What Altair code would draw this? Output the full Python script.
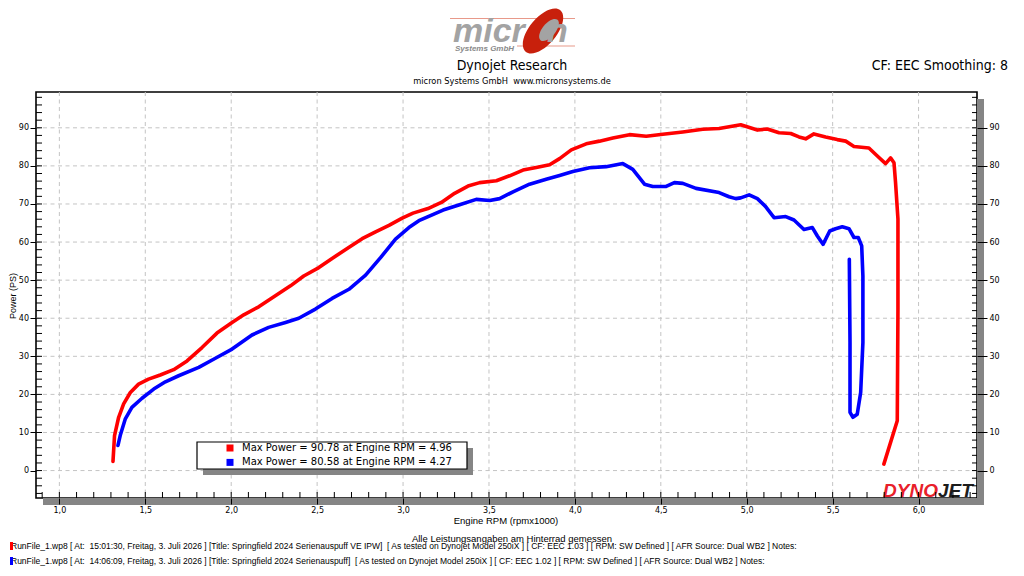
import altair as alt
import pandas as pd

# ---------------- data ----------------
RED_LABEL = "Max Power = 90.78 at Engine RPM = 4.96"
BLUE_LABEL = "Max Power = 80.58 at Engine RPM = 4.27"

RED_RPM = [1.312, 1.321, 1.345, 1.374, 1.413, 1.461, 1.519, 1.587, 1.665, 1.743,
           1.830, 1.917, 2.005, 2.073, 2.160, 2.257, 2.345, 2.422, 2.510, 2.587,
           2.675, 2.762, 2.840, 2.918, 2.995, 3.058, 3.145, 3.223, 3.300, 3.378,
           3.446, 3.543, 3.620, 3.698, 3.775, 3.853, 3.911, 3.979, 4.066, 4.143,
           4.221, 4.318, 4.415, 4.512, 4.628, 4.744, 4.839, 4.965, 5.062, 5.120,
           5.188, 5.256, 5.304, 5.343, 5.391, 5.459, 5.527, 5.576, 5.624, 5.711,
           5.760, 5.808, 5.837, 5.857, 5.866, 5.880, 5.880, 5.876, 5.798]
RED_PS = [2.4, 9.2, 14.0, 17.5, 20.5, 22.7, 24.0, 25.1, 26.5, 28.8,
          32.3, 36.1, 38.9, 40.9, 43.0, 45.9, 48.5, 51.1, 53.3, 55.7,
          58.3, 60.9, 62.7, 64.4, 66.3, 67.6, 68.8, 70.4, 72.8, 74.7,
          75.6, 76.1, 77.4, 78.9, 79.6, 80.3, 81.9, 84.2, 85.8, 86.5,
          87.3, 88.2, 87.8, 88.3, 88.9, 89.6, 89.8, 90.8, 89.4, 89.7,
          88.7, 88.5, 87.6, 87.1, 88.4, 87.6, 86.9, 86.5, 85.1, 84.7,
          82.6, 80.6, 82.1, 80.8, 75.6, 66.0, 42.4, 13.1, 1.7]

BLUE_RPM = [1.341, 1.354, 1.383, 1.422, 1.481, 1.549, 1.617, 1.694, 1.811, 1.908,
            2.005, 2.121, 2.218, 2.316, 2.393, 2.490, 2.587, 2.685, 2.782, 2.869,
            2.956, 3.034, 3.092, 3.136, 3.233, 3.329, 3.426, 3.504, 3.562, 3.640,
            3.736, 3.833, 3.911, 3.988, 4.085, 4.182, 4.279, 4.337, 4.405, 4.453,
            4.531, 4.579, 4.628, 4.705, 4.839, 4.897, 4.936, 4.965, 5.014, 5.062,
            5.110, 5.159, 5.227, 5.275, 5.333, 5.382, 5.411, 5.444, 5.483, 5.517,
            5.556, 5.595, 5.624, 5.649, 5.669, 5.676, 5.676, 5.663, 5.643, 5.618,
            5.601, 5.601, 5.597]
BLUE_PS = [6.6, 9.2, 13.5, 16.6, 19.0, 21.4, 23.3, 24.9, 27.1, 29.5,
           31.9, 35.6, 37.6, 38.9, 40.0, 42.4, 45.2, 47.6, 51.3, 55.9,
           60.8, 63.8, 65.6, 66.5, 68.4, 69.8, 71.2, 70.9, 71.4, 73.2,
           75.2, 76.5, 77.5, 78.5, 79.5, 79.8, 80.6, 79.1, 75.2, 74.6,
           74.6, 75.6, 75.4, 74.1, 73.0, 71.9, 71.4, 71.6, 72.4, 71.4,
           69.3, 66.4, 66.7, 65.8, 63.3, 63.8, 61.6, 59.4, 62.9, 63.5,
           64.0, 63.5, 61.2, 61.2, 59.0, 51.1, 33.6, 20.5, 14.8, 14.0,
           15.3, 33.6, 55.5]

X_MAJOR = [1.0, 1.5, 2.0, 2.5, 3.0, 3.5, 4.0, 4.5, 5.0, 5.5, 6.0]
Y_MAJOR = [0, 10, 20, 30, 40, 50, 60, 70, 80, 90]
X_MINOR = [round(0.9 + 0.1 * i, 1) for i in range(55)]
Y_MINOR = list(range(-6, 100, 2))

HEADER_TITLE = "Dynojet Research"
HEADER_SUB = "micron Systems GmbH \u00a0www.micronsystems.de"
HEADER_RIGHT = "CF: EEC Smoothing: 8"
X_TITLE = "Engine RPM (rpmx1000)"
Y_TITLE = "Power (PS)"
FOOT_NOTE = "Alle Leistungsangaben am Hinterrad gemessen"
RUN_LINES = [
    "RunFile_1.wp8 [ At: \u00a015:01:30, Freitag, 3. Juli 2026 ] [Title: Springfield 2024 Serienauspuff VE IPW] \u00a0[ As tested on Dynojet Model 250iX ] [ CF: EEC 1.03 ] [ RPM: SW Defined ] [ AFR Source: Dual WB2 ] Notes:",
    "RunFile_1.wp8 [ At: \u00a014:06:09, Freitag, 3. Juli 2026 ] [Title: Springfield 2024 Serienauspuff] \u00a0[ As tested on Dynojet Model 250iX ] [ CF: EEC 1.02 ] [ RPM: SW Defined ] [ AFR Source: Dual WB2 ] Notes:",
]
RUN_COLORS = ["#ff0000", "#0000ff"]

# ---------------- layout ----------------
W, H = 941, 406
XDOM = [0.864, 6.34]
YDOM = [-7.2, 99.4]
NARROW = "Liberation Sans Narrow, DejaVu Sans Condensed, Liberation Sans, sans-serif"
SANS = "Liberation Sans, Arial, sans-serif"
TICKFONT = "DejaVu Sans, sans-serif"

xs = alt.Scale(domain=XDOM, nice=False, zero=False)
ys = alt.Scale(domain=YDOM, nice=False, zero=False)
cscale = alt.Scale(domain=[RED_LABEL, BLUE_LABEL], range=RUN_COLORS)

one = pd.DataFrame({"k": [0]})


def rect(x, x2, y, y2, fill, stroke=None, sw=1):
    kw = dict(fill=fill)
    if stroke:
        kw.update(stroke=stroke, strokeWidth=sw)
    return alt.Chart(one).mark_rect(**kw).encode(
        x=alt.value(x), x2=alt.value(x2), y=alt.value(y), y2=alt.value(y2))


def text(t, x, y, size, font=SANS, color="black", align="center",
         weight="normal", style="normal", angle=0, baseline="middle"):
    return alt.Chart(pd.DataFrame({"t": [t]})).mark_text(
        align=align, baseline=baseline, fontSize=size, font=font, color=color,
        fontWeight=weight, fontStyle=style, angle=angle).encode(
        text="t:N", x=alt.value(x), y=alt.value(y))


lines_df = pd.concat([
    pd.DataFrame({"rpm": RED_RPM, "power": RED_PS, "run": RED_LABEL,
                  "idx": range(len(RED_RPM))}),
    pd.DataFrame({"rpm": BLUE_RPM, "power": BLUE_PS, "run": BLUE_LABEL,
                  "idx": range(len(BLUE_RPM))}),
])

# grid
xgrid = alt.Chart(pd.DataFrame({"v": X_MAJOR})).mark_rule(
    color="#c4c4c4", strokeDash=[4, 3.5], strokeWidth=1).encode(
    x=alt.X("v:Q", scale=xs, axis=None))
ygrid = alt.Chart(pd.DataFrame({"v": Y_MAJOR})).mark_rule(
    color="#c4c4c4", strokeDash=[4, 3.5], strokeWidth=1).encode(
    y=alt.Y("v:Q", scale=ys, axis=None))

# plot shadow
shadow_r = rect(W, W + 7, 7, H + 7, "#858585")
shadow_b = rect(7, W + 7, H, H + 7, "#858585")

lines = alt.Chart(lines_df).mark_line(
    strokeWidth=3.6, strokeJoin="round", strokeCap="round").encode(
    x=alt.X("rpm:Q", scale=xs, axis=None),
    y=alt.Y("power:Q", scale=ys, axis=None),
    color=alt.Color("run:N", scale=cscale, legend=None),
    order="idx:Q",
)

# DYNOJET logo
dj_bg = rect(844, 940, 390, 405, "white")
dj1 = text("DYNO", 902, 405, 19, font=SANS, color="#e8202a", align="right",
           weight="bold", style="italic", baseline="alphabetic")
dj2 = text("JET", 902, 405, 19, font=SANS, color="#1c1c1c", align="left",
           weight="bold", style="italic", baseline="alphabetic")

# legend box
leg_shadow = rect(167, 437, 356, 383, "#858585")
leg_box = rect(161, 431, 350, 377, "white", stroke="black", sw=1.2)

axis_common = dict(grid=False, domain=False, tickColor="black", tickWidth=1,
                   labelFont=TICKFONT, labelFontSize=8, labelColor="black",
                   title=None, zindex=1)

xminor = alt.Chart(pd.DataFrame({"v": X_MINOR})).mark_rule(
    color="black", strokeWidth=1).encode(
    x=alt.X("v:Q", scale=xs, axis=alt.Axis(
        orient="bottom", values=X_MAJOR, tickSize=6, labelPadding=2,
        labelOverlap=False,
        labelExpr="replace(format(datum.value, '.1f'), '.', ',')",
        **axis_common)),
    y=alt.value(H - 6), y2=alt.value(H))

yminor_l = alt.Chart(pd.DataFrame({"v": Y_MINOR})).mark_rule(
    color="black", strokeWidth=1).encode(
    y=alt.Y("v:Q", scale=ys, axis=alt.Axis(
        orient="left", values=Y_MAJOR, tickSize=6, labelPadding=1.5,
        **axis_common)),
    x=alt.value(0), x2=alt.value(6))

yminor_r = alt.Chart(pd.DataFrame({"v": Y_MINOR})).mark_rule(
    color="black", strokeWidth=1).encode(
    y=alt.Y("v:Q", scale=ys, axis=alt.Axis(
        orient="right", values=Y_MAJOR, tickSize=10, labelPadding=2,
        **axis_common)),
    x=alt.value(W - 5), x2=alt.value(W))

# legend (filled squares)
legend_layer = alt.Chart(pd.DataFrame({"run": [RED_LABEL, BLUE_LABEL]})).mark_square(
    size=49, filled=True, opacity=1).encode(
    x=alt.value(-500), y=alt.value(-500),
    color=alt.Color("run:N", scale=cscale, legend=alt.Legend(
        orient="none", legendX=189, legendY=351, title=None,
        symbolType="square", symbolSize=49, symbolStrokeWidth=0,
        symbolOpacity=1, labelLimit=400,
        labelFont=TICKFONT, labelFontSize=10, labelColor="black",
        rowPadding=4.4, padding=0, labelOffset=7)))

# header + micron logo
ellipse = "M 0 -1 A 0.5 1 0 1 1 0 1 A 0.5 1 0 1 1 0 -1 Z"
logo_line1 = rect(414, 539, -74, -73, "#e8998a")
logo_line2 = rect(481, 539, -46.5, -45.5, "#e8998a")
ring = alt.Chart(one).mark_point(shape=ellipse, filled=True, size=2916,
                                 angle=40, color="#c8200c", opacity=1).encode(
    x=alt.value(507), y=alt.value(-61))
ring_in = alt.Chart(one).mark_point(shape=ellipse, filled=True, size=700,
                                    angle=40, color="#a3a3a3", opacity=1).encode(
    x=alt.value(513), y=alt.value(-62))
logo_micr = text("micr", 417, -50, 34, font=SANS, color="#a3a3a3", align="left",
                 weight="bold", style="italic", baseline="alphabetic")
logo_n = text("n", 511, -50, 34, font=SANS, color="#a3a3a3", align="left",
              weight="bold", style="italic", baseline="alphabetic")
logo_sub = text("Systems GmbH", 419, -43, 8, font=SANS, color="#8a8a8a",
                align="left", weight="bold", style="italic")

h1 = text(HEADER_TITLE, 476, -26, 14, font=NARROW)
h2 = text(HEADER_SUB, 476, -11, 9.2, font=NARROW)
h3 = text(HEADER_RIGHT, 972, -26, 14, font=NARROW, align="right")

# axis titles, footer
xt = text(X_TITLE, 470, 429, 9.5, font=SANS)
yt = text(Y_TITLE, -23, 204, 9, font=SANS, angle=270)
fn = text(FOOT_NOTE, 476, 446.5, 9.5, font=SANS)
f1 = text(RUN_LINES[0], -25, 454, 8.5, font=SANS, align="left")
f2 = text(RUN_LINES[1], -25, 469, 8.5, font=SANS, align="left")
m1 = rect(-26, -23, 450, 458, RUN_COLORS[0])
m2 = rect(-26, -23, 465, 473, RUN_COLORS[1])

chart = alt.layer(
    xgrid, ygrid, shadow_r, shadow_b, lines, dj_bg, dj1, dj2,
    leg_shadow, leg_box, xminor, yminor_l, yminor_r,
    logo_line1, logo_line2, ring, ring_in, logo_micr, logo_n, logo_sub,
    h1, h2, h3, xt, yt, fn, f1, f2, m1, m2, legend_layer,
).resolve_axis(x="independent", y="independent").resolve_legend(
    color="independent").properties(
    width=W, height=H,
    padding={"left": 28, "top": 84, "right": 31, "bottom": 70},
    autosize=alt.AutoSizeParams(type="none"),
    background="white",
).configure_view(stroke="black", strokeWidth=1.6)

chart.save("out.html", embed_options={"renderer": "svg", "actions": False})
